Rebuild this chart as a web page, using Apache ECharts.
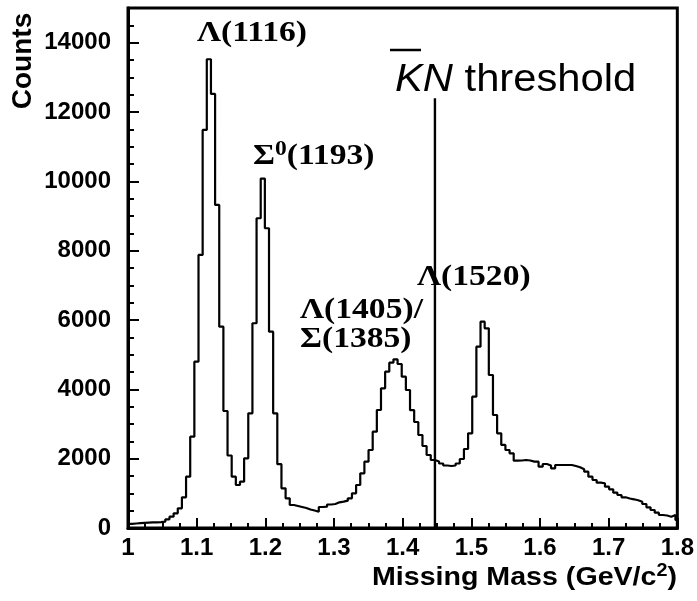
<!DOCTYPE html>
<html><head><meta charset="utf-8">
<script src="https://cdn.jsdelivr.net/npm/echarts@6/dist/echarts.min.js"></script>
<style>html,body{margin:0;padding:0;background:#fff}#c{width:697px;height:601px}</style>
</head><body><div id="c"></div>
<script>
// Histogram binning (GeV/c^2)
const binStart = 1.0;
const binWidth = 0.00604;
// Counts per bin
const counts = [
  120,130,140,150,155,160,165,170,185,251,
  326,424,568,886,1480,2634,4798,7876,11482,13522,
  12521,9319,5808,3375,2092,1480,1241,1336,2011,3309,
  5906,8935,10080,8647,5663,3309,1840,1145,857,664,
  635,606,577,534,505,470,606,615,678,692,
  741,759,788,857,1001,1241,1578,1913,2250,2778,
  3404,4030,4509,4769,4867,4731,4365,3981,3400,3058,
  2683,2366,2106,1962,1919,1861,1803,1789,1803,1861,
  1991,2279,2732,3787,5231,5952,5761,4414,3260,2732,
  2395,2250,2155,1942,1947,1962,1947,1913,1913,1768,
  1846,1803,1722,1818,1818,1818,1818,1789,1751,1694,
  1624,1480,1385,1307,1290,1192,1117,1018,952,886,
  851,828,800,759,692,597,519,441,375,360,
  326,375,231
];
// KN threshold marker
const thresholdMass = 1.447;
const thresholdTop = 12400;
// Axis ranges and steps
const xRange = [1.0, 1.8];
const xStep = 0.1;
const yRange = [0, 15000];
const yStep = 2000;
const yMinorStep = 500;
// Texts
const xTitle = 'Missing Mass (GeV/c';
const yTitle = 'Counts';

const histData = counts.map((c, i) => [binStart + i * binWidth, c]);
histData.push([binStart + counts.length * binWidth, counts[counts.length - 1]]);

const chart = echarts.init(document.getElementById('c'), null, {renderer: 'canvas'});
const tickFont = {fontFamily: 'Liberation Sans', fontWeight: 'bold', fontSize: 24, color: '#000'};
const serif = 'bold 30px "Liberation Serif"';

function ann(text, x, y, extra) {
  return Object.assign({type: 'text', x: x, y: y, scaleX: 1.12, z: 10,
    style: {text: text, font: serif, fill: '#000', align: 'left', verticalAlign: 'middle'}}, extra || {});
}

chart.setOption({
  animation: false,
  backgroundColor: '#fff',
  grid: {left: 128, right: 19, top: 8, bottom: 73, show: true, borderColor: '#000', borderWidth: 3, backgroundColor: '#fff'},
  xAxis: {
    type: 'value', min: xRange[0], max: xRange[1], interval: xStep,
    axisLine: {show: true, onZero: false, lineStyle: {color: '#000', width: 3}},
    axisTick: {show: true, inside: true, length: 10, lineStyle: {color: '#000', width: 2}},
    minorTick: {show: true, splitNumber: 4, length: 5, lineStyle: {color: '#000', width: 2}},
    splitLine: {show: false}, minorSplitLine: {show: false},
    axisLabel: Object.assign({margin: 8, formatter: v => String(+v.toFixed(2))}, tickFont)
  },
  yAxis: [{
    type: 'value', min: yRange[0], max: yRange[1], interval: yStep,
    axisLine: {show: true, onZero: false, lineStyle: {color: '#000', width: 3}},
    axisTick: {show: true, inside: true, length: 11, lineStyle: {color: '#000', width: 2}},
    splitLine: {show: false},
    axisLabel: Object.assign({margin: 17, showMaxLabel: false, formatter: v => String(v)}, tickFont)
  }, {
    type: 'value', position: 'left', min: yRange[0], max: yRange[1], interval: yMinorStep,
    axisLine: {show: false},
    axisTick: {show: true, inside: true, length: 6, lineStyle: {color: '#000', width: 2}},
    splitLine: {show: false}, axisLabel: {show: false}
  }],
  series: [{
    type: 'line', data: histData, step: 'end', symbol: 'none', silent: true, clip: true,
    lineStyle: {color: '#000', width: 2.2}, z: 3
  }, {
    type: 'line', data: [[thresholdMass, 0], [thresholdMass, thresholdTop]], symbol: 'none', silent: true,
    lineStyle: {color: '#000', width: 2.4}, z: 3
  }],
  graphic: [
    ann('Λ(1116)', 197, 33),
    ann('{m|Σ}{s|0}{m|(1193)}', 253, 156, {style: {text: '{m|Σ}{s|0}{m|(1193)}', fill: '#000', align: 'left', verticalAlign: 'middle',
      rich: {m: {font: serif, lineHeight: 34, fill: '#000'}, s: {font: 'bold 21px "Liberation Serif"', lineHeight: 21, verticalAlign: 'top', fill: '#000'}}}}),
    ann('Λ(1405)/', 300, 310),
    ann('Σ(1385)', 300, 339),
    ann('Λ(1520)', 417, 277),
    {type: 'text', x: 395, y: 80, scaleX: 1.07, z: 10,
      style: {text: '{i|KN}{r| threshold}', align: 'left', verticalAlign: 'middle',
        rich: {i: {font: 'italic 39px "Liberation Sans"', fill: '#000'}, r: {font: '39px "Liberation Sans"', fill: '#000'}}}},
    {type: 'line', z: 10, shape: {x1: 390, y1: 50, x2: 421, y2: 50}, style: {stroke: '#000', lineWidth: 2.5}},
    {type: 'text', x: 23, y: 61, rotation: Math.PI / 2, z: 10,
      style: {text: yTitle, font: 'bold 28px "Liberation Sans"', fill: '#000', align: 'center', verticalAlign: 'middle'}},
    {type: 'text', x: 677, y: 578, scaleX: 1.1, z: 10,
      style: {text: '{m|' + xTitle + '}{s|2}{m|)}', align: 'right', verticalAlign: 'middle',
        rich: {m: {font: 'bold 26px "Liberation Sans"', lineHeight: 30, fill: '#000'}, s: {font: 'bold 18px "Liberation Sans"', padding: [0, 0, 14, 0], fill: '#000'}}}}
  ]
});
</script>
</body></html>
